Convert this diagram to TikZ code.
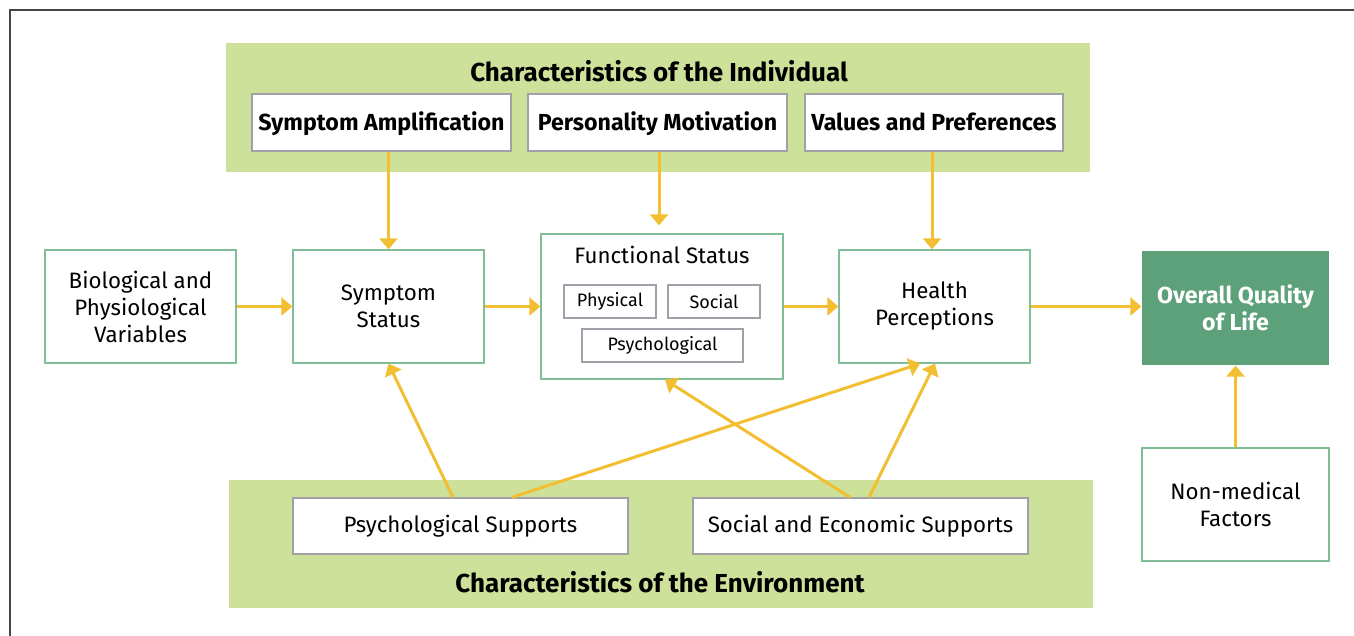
\documentclass[tikz,border=0pt]{standalone}
\usepackage{fontspec}
\setmainfont{Fira Sans}
\usepackage{tikz}
\usetikzlibrary{arrows.meta,positioning,calc}
\definecolor{bandgreen}{RGB}{206, 225, 154}
\definecolor{edgegreen}{RGB}{128, 190, 152}
\definecolor{edgegray}{RGB}{160, 160, 168}
\definecolor{qolgreen}{RGB}{93, 161, 122}
\definecolor{arrowgold}{RGB}{242, 190, 50}
\definecolor{framegray}{RGB}{70, 70, 70}

\begin{document}
\begin{tikzpicture}[
    x=1pt, y=-1pt,
    font=\fontsize{22.3}{27}\selectfont,
    band/.style={rectangle, fill=bandgreen, inner sep=0pt},
    box/.style={rectangle, draw=edgegreen, line width=1.3pt, fill=white, align=center, inner sep=0pt},
    subbox/.style={rectangle, draw=edgegray, line width=1.3pt, fill=white, align=center, inner sep=0pt},
    boldbox/.style={subbox, font=\fontsize{23.2}{27}\selectfont\bfseries, text height=22pt, text depth=5pt},
    title/.style={font=\fontsize{26}{30}\selectfont\bfseries},
    arrow/.style={-{Triangle[length=11pt,width=18pt]}, draw=arrowgold, line width=3pt}
]
    \useasboundingbox (0,0) rectangle (1354,636);
    \draw[framegray, line width=2pt] (10,636) -- (10,10) -- (1354,10);

    % Individual characteristics
    \node[band, minimum width=864pt, minimum height=129pt] (indiv) at (658,107.5) {};
    \node[title] (indivtitle) at (659,71) {Characteristics of the Individual};
    \node[boldbox, minimum width=259pt, minimum height=57pt] (ampl) at (381.5,122.5) {Symptom Amplification};
    \node[boldbox, minimum width=259pt, minimum height=57pt] (motiv) at (657.5,122.5) {Personality Motivation};
    \node[boldbox, minimum width=258pt, minimum height=57pt] (values) at (934,122.5) {Values and Preferences};

    % Environment characteristics
    \node[band, minimum width=864pt, minimum height=128pt] (env) at (661,544) {};
    \node[title] (envtitle) at (660,582) {Characteristics of the Environment};
    \node[subbox, minimum width=335pt, minimum height=56pt] (psysup) at (460.5,526) {Psychological Supports};
    \node[subbox, minimum width=335pt, minimum height=56pt] (ecosup) at (860.5,526) {Social and Economic Supports};

    % Main chain
    \node[box, minimum width=191pt, minimum height=113pt] (bio) at (140.5,306.5) {Biological and\\Physiological\\Variables};
    \node[box, minimum width=191pt, minimum height=113pt] (symp) at (388.5,306.5) {Symptom\\Status};
    \node[box, minimum width=242pt, minimum height=145pt] (func) at (662,306.5) {};
    \node (functitle) at (662,255) {Functional Status};
    \node[subbox, font=\fontsize{18}{22}\selectfont, minimum width=92pt, minimum height=33pt] (phys) at (610,301.5) {Physical};
    \node[subbox, font=\fontsize{18}{22}\selectfont, minimum width=92pt, minimum height=33pt] (soc) at (714,301.5) {Social};
    \node[subbox, font=\fontsize{18}{22}\selectfont, minimum width=161pt, minimum height=33pt] (psych) at (662.5,345.5) {Psychological};
    \node[box, minimum width=191pt, minimum height=113pt] (health) at (934.5,306.5) {Health\\Perceptions};
    \node[box, draw=none, fill=qolgreen, text=white, font=\fontsize{23.2}{27}\selectfont\bfseries, minimum width=187pt, minimum height=114pt] (qol) at (1235.5,308) {Overall Quality\\of Life};
    \node[box, minimum width=187pt, minimum height=113pt] (nonmed) at (1235.5,504.5) {Non-medical\\Factors};

    % Arrows
    \draw[arrow] (ampl.south -| symp.north) -- (symp.north);
    \draw[arrow, shorten >=8pt] ([xshift=1.5pt]motiv.south) -- ([xshift=1.5pt]motiv.south |- func.north);
    \draw[arrow] ([xshift=-2pt]values.south) -- ([xshift=-2pt]values.south |- health.north);
    \draw[arrow] (bio.east) -- (symp.west);
    \draw[arrow] (symp.east) -- (func.west);
    \draw[arrow] (func.east) -- (health.west);
    \draw[arrow] (health.east) -- (health.east -| qol.west);
    \draw[arrow] (nonmed.north) -- (qol.south);
    \draw[arrow] ([xshift=-7.5pt]psysup.north) -- (symp.south);
    \draw[arrow] ([xshift=51.5pt]psysup.north) -- ([xshift=-14.5pt]health.south);
    \draw[arrow] ([xshift=-10.5pt]ecosup.north) -- ([xshift=3pt]func.south);
    \draw[arrow] ([xshift=8.5pt]ecosup.north) -- ([xshift=0.5pt]health.south);
\end{tikzpicture}
\end{document}
